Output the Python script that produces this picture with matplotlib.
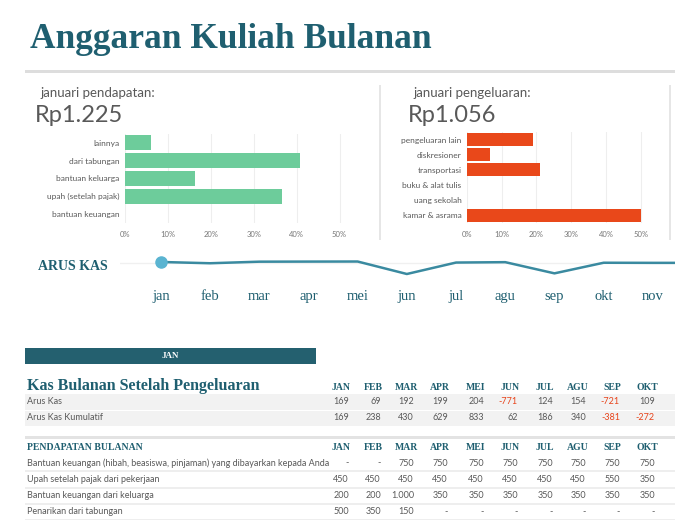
import matplotlib
matplotlib.use("Agg")
import matplotlib.pyplot as plt
from matplotlib.patches import Rectangle

W, H = 675, 520
income_cats = ["lainnya", "dari tabungan", "bantuan keluarga", "upah (setelah pajak)", "bantuan keuangan"]
income_pct = [6.1, 40.8, 16.3, 36.7, 0]
expense_cats = ["pengeluaran lain", "diskresioner", "transportasi", "buku & alat tulis", "uang sekolah", "kamar & asrama"]
expense_pct = [19, 6.5, 21, 0, 0, 50]
pct_ticks = [0, 10, 20, 30, 40, 50]
months = ["jan", "feb", "mar", "apr", "mei", "jun", "jul", "agu", "sep", "okt", "nov", "des"]
cashflow = [169, 69, 192, 199, 204, -771, 124, 154, -721, 109, 100, 100]
cols = ["JAN", "FEB", "MAR", "APR", "MEI", "JUN", "JUL", "AGU", "SEP", "OKT"]
arus_kas = [169, 69, 192, 199, 204, -771, 124, 154, -721, 109]
arus_kumulatif = [169, 238, 430, 629, 833, 62, 186, 340, -381, -272]
inc_rows = ["Bantuan keuangan (hibah, beasiswa, pinjaman) yang dibayarkan kepada Anda",
            "Upah setelah pajak dari pekerjaan", "Bantuan keuangan dari keluarga", "Penarikan dari tabungan"]
inc_vals = [["-", "-", "750", "750", "750", "750", "750", "750", "750", "750"],
            ["450"] * 8 + ["550", "350"],
            ["200", "200", "1.000"] + ["350"] * 7,
            ["500", "350", "150"] + ["-"] * 7]

TEAL = "#1f5f70"
GRAY = "#595959"
SANS = "Lato"
SERIF = "Liberation Serif"

fig = plt.figure(figsize=(W / 100, H / 100), dpi=100)

def fx(x): return x / W
def fy(y): return 1 - y / H
def T(x, y, s, **kw): fig.text(fx(x), fy(y), s, **kw)
def R(x0, y0, x1, y1, c):
    fig.patches.append(Rectangle((fx(x0), fy(y1)), fx(x1) - fx(x0), fy(y0) - fy(y1),
                                 transform=fig.transFigure, color=c, zorder=0, lw=0))
def AX(x0, y0, x1, y1):
    return fig.add_axes([fx(x0), fy(y1), fx(x1) - fx(x0), fy(y0) - fy(y1)])

T(30, 40, "Anggaran Kuliah Bulanan", fontfamily=SERIF, fontweight="bold", fontsize=25.5, color=TEAL, va="center")
R(25, 70, 675, 73, "#dddddd")
R(379, 85, 381, 240, "#e6e6e6")
R(669, 85, 671, 240, "#e6e6e6")

T(40, 93, "januari pendapatan:", fontfamily=SANS, fontsize=9.5, color=GRAY, va="center")
T(35, 115, "Rp1.225", fontfamily=SANS, fontsize=17, color=GRAY, va="center")
T(413, 93, "januari pengeluaran:", fontfamily=SANS, fontsize=9.5, color=GRAY, va="center")
T(408, 115, "Rp1.056", fontfamily=SANS, fontsize=17, color=GRAY, va="center")

def barax(ax, cats, vals, color):
    ax.barh(range(len(cats)), vals, height=0.85, color=color)
    ax.set_yticks(range(len(cats)))
    ax.set_yticklabels(cats, fontfamily=SANS, fontsize=6, color=GRAY)
    ax.set_ylim(len(cats) - 0.5, -0.5)
    ax.set_xlim(0, 55)
    ax.set_xticks(pct_ticks)
    ax.set_xticklabels([f"{t}%" for t in pct_ticks], fontfamily=SANS, fontsize=5.5, color="#777777")
    ax.grid(axis="x", color="#eeeeee", lw=0.8)
    ax.set_axisbelow(True)
    for s in ax.spines.values(): s.set_visible(False)
    ax.tick_params(length=0, pad=4)
    ax.tick_params(axis="x", pad=6)

barax(AX(125, 134, 361, 223), income_cats, income_pct, "#6dcc9b")
barax(AX(467, 132, 658, 223), expense_cats, expense_pct, "#e9481a")

T(38, 266, "ARUS KAS", fontfamily=SERIF, fontweight="bold", fontsize=10, color=TEAL, va="center")
lax = AX(120, 250, 675, 283)
lax.plot(range(len(cashflow)), cashflow, color="#3a8aa0", lw=1.8)
lax.plot([0], [cashflow[0]], "o", color="#5ab4d1", ms=8)
lax.axhline(cashflow[0] - 60, color="#f0f0f0", lw=1, zorder=0)
lax.set_xlim(-0.83, 10.45)
lax.set_ylim(-1475, 1105)
lax.set_xticks(range(11))
lax.set_xticklabels(months[:11], fontfamily=SERIF, fontsize=10.5, color=TEAL)
lax.set_yticks([])
lax.tick_params(length=0, pad=5)
for s in lax.spines.values(): s.set_visible(False)

R(25, 348, 316, 364, "#24606f")
T(170, 356, "JAN", fontfamily=SERIF, fontweight="bold", fontsize=6.5, color="white", ha="center", va="center")

colx = [341, 373, 406, 440, 476, 510, 545, 578, 612, 647]
T(27, 386, "Kas Bulanan Setelah Pengeluaran", fontfamily=SERIF, fontweight="bold", fontsize=11.5, color=TEAL, va="center")
for x, c in zip(colx, cols):
    T(x, 388, c, fontfamily=SERIF, fontweight="bold", fontsize=7, color=TEAL, ha="center", va="center")
R(25, 394, 675, 410, "#f2f2f2")
R(25, 410, 675, 426, "#f2f2f2")
R(25, 409.5, 675, 411, "white")
for y, lab, vals in [(402, "Arus Kas", arus_kas), (418, "Arus Kas Kumulatif", arus_kumulatif)]:
    T(27, y, lab, fontfamily=SANS, fontsize=6.5, color=GRAY, va="center")
    for x, v in zip(colx, vals):
        T(x + 8, y, str(v), fontfamily=SANS, fontsize=6.5, color="#e8431a" if v < 0 else GRAY, ha="right", va="center")

R(25, 436, 675, 439, "#e3e3e3")
T(27, 448, "PENDAPATAN BULANAN", fontfamily=SERIF, fontweight="bold", fontsize=7, color=TEAL, va="center")
for x, c in zip(colx, cols):
    T(x, 448, c, fontfamily=SERIF, fontweight="bold", fontsize=7, color=TEAL, ha="center", va="center")
rys = [463, 480, 496, 512]
for i, (y, lab, vals) in enumerate(zip(rys, inc_rows, inc_vals)):
    R(25, y + 7, 675, y + 9, "#eeeeee")
    T(27, y, lab, fontfamily=SANS, fontsize=6.5, color=GRAY, va="center")
    for x, v in zip(colx, vals):
        T(x + 8, y, v, fontfamily=SANS, fontsize=6.5, color=GRAY, ha="right", va="center")

fig.savefig("out.png", dpi=100)
